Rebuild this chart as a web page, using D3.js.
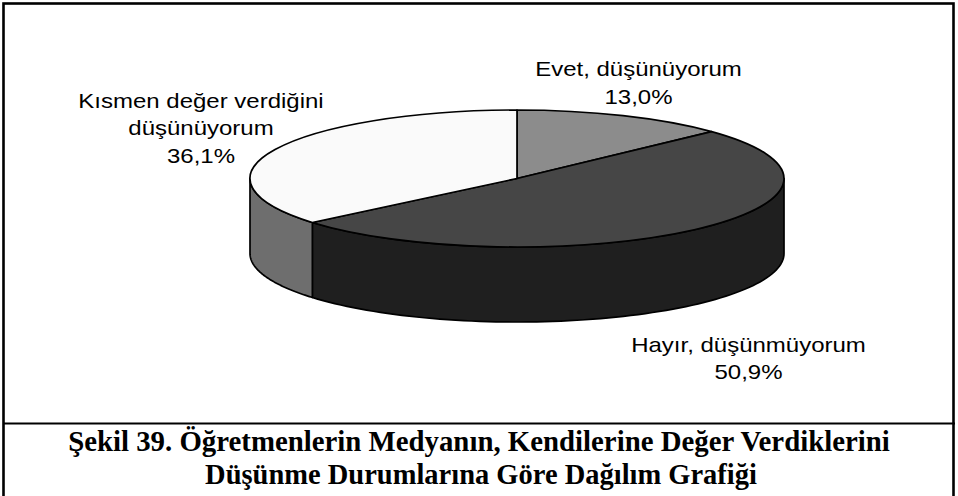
<!DOCTYPE html>
<html>
<head>
<meta charset="utf-8">
<script src="https://cdn.jsdelivr.net/npm/d3@7"></script>
<style>
  html, body { margin: 0; padding: 0; background: #fff; }
  svg { display: block; }
</style>
</head>
<body>
<svg id="chart" width="958" height="496"></svg>
<script>
// Survey answers and their shares (%)
const categories = ["Evet, düşünüyorum", "Hayır, düşünmüyorum", "Kısmen değer verdiğini düşünüyorum"];
const values = [13.0, 50.9, 36.1];
const valueLabels = ["13,0%", "50,9%", "36,1%"];
// Label text split across lines
const labelLines = [
  ["Evet, düşünüyorum", "13,0%"],
  ["Hayır, düşünmüyorum", "50,9%"],
  ["Kısmen değer verdiğini", "düşünüyorum", "36,1%"]
];
const topColors = ["#8c8c8c", "#464646", "#fafafa"];
const sideColors = ["#626262", "#1f1f1f", "#6e6e6e"];
const captionLines = [
  "Şekil 39. Öğretmenlerin Medyanın, Kendilerine Değer Verdiklerini",
  "Düşünme Durumlarına Göre Dağılım Grafiği"
];

const svg = d3.select("#chart");

// Frame and caption divider
svg.append("rect")
  .attr("x", 3.5).attr("y", 3.5)
  .attr("width", 950).attr("height", 510)
  .attr("fill", "none").attr("stroke", "#000").attr("stroke-width", 2.6);
svg.append("line")
  .attr("x1", 3).attr("x2", 955).attr("y1", 423.5).attr("y2", 423.5)
  .attr("stroke", "#000").attr("stroke-width", 2.2);

// 3D pie geometry (elliptical projection)
const cx = 517, cy = 178.5, rx = 267, ry = 68.5, depth = 75;
const px = a => cx + rx * Math.sin(a);
const py = a => cy - ry * Math.cos(a);

const pie = d3.pie().sort(null).value(d => d)
  .startAngle(0).endAngle(2 * Math.PI);
const arcs = pie(values);

const g = svg.append("g");

// Outer walls: only the front half (angles between π/2 and 3π/2) is visible
const lineGen = d3.line();
arcs.forEach((d, i) => {
  const a0 = Math.max(d.startAngle, Math.PI / 2);
  const a1 = Math.min(d.endAngle, 3 * Math.PI / 2);
  if (a1 <= a0) return;
  const n = 80;
  const topPts = d3.range(n + 1).map(k => {
    const a = a0 + (a1 - a0) * k / n;
    return [px(a), py(a)];
  });
  const botPts = topPts.slice().reverse().map(p => [p[0], p[1] + depth]);
  g.append("path")
    .attr("d", lineGen(topPts.concat(botPts)) + "Z")
    .attr("fill", sideColors[i])
    .attr("stroke", "#000").attr("stroke-width", 1.7)
    .attr("stroke-linejoin", "round");
});

// Top faces
arcs.forEach((d, i) => {
  const a0 = d.startAngle, a1 = d.endAngle;
  const large = (a1 - a0) > Math.PI ? 1 : 0;
  const path = `M${cx},${cy}L${px(a0)},${py(a0)}A${rx},${ry} 0 ${large} 1 ${px(a1)},${py(a1)}Z`;
  g.append("path")
    .attr("d", path)
    .attr("fill", topColors[i])
    .attr("stroke", "#000").attr("stroke-width", 1.7)
    .attr("stroke-linejoin", "round");
});

// Slice labels
const labelPos = [
  { x: 638.5, y: 75.5 },
  { x: 748.5, y: 352 },
  { x: 201, y: 107.5 }
];
const lineStep = [28, 26.5, 27.5];
labelLines.forEach((lines, i) => {
  lines.forEach((t, k) => {
    svg.append("text")
      .attr("transform", `translate(${labelPos[i].x},${labelPos[i].y + k * lineStep[i]}) scale(1.2,1)`)
      .attr("text-anchor", "middle")
      .attr("font-family", "'Liberation Sans', Arial, sans-serif")
      .attr("font-size", 20)
      .attr("fill", "#000")
      .text(t);
  });
});

// Caption
const capCenters = [479, 481];
const capWidths = [822, 552];
const capBaselines = [451, 484];
captionLines.forEach((t, k) => {
  const txt = svg.append("text")
    .attr("text-anchor", "middle")
    .attr("font-family", "'Liberation Serif', 'Times New Roman', serif")
    .attr("font-weight", "bold")
    .attr("font-size", 30)
    .attr("fill", "#000")
    .text(t);
  const w = txt.node().getComputedTextLength();
  const s = capWidths[k] / w;
  txt.attr("transform", `translate(${capCenters[k]},${capBaselines[k]}) scale(${s},1)`);
});
</script>
</body>
</html>
